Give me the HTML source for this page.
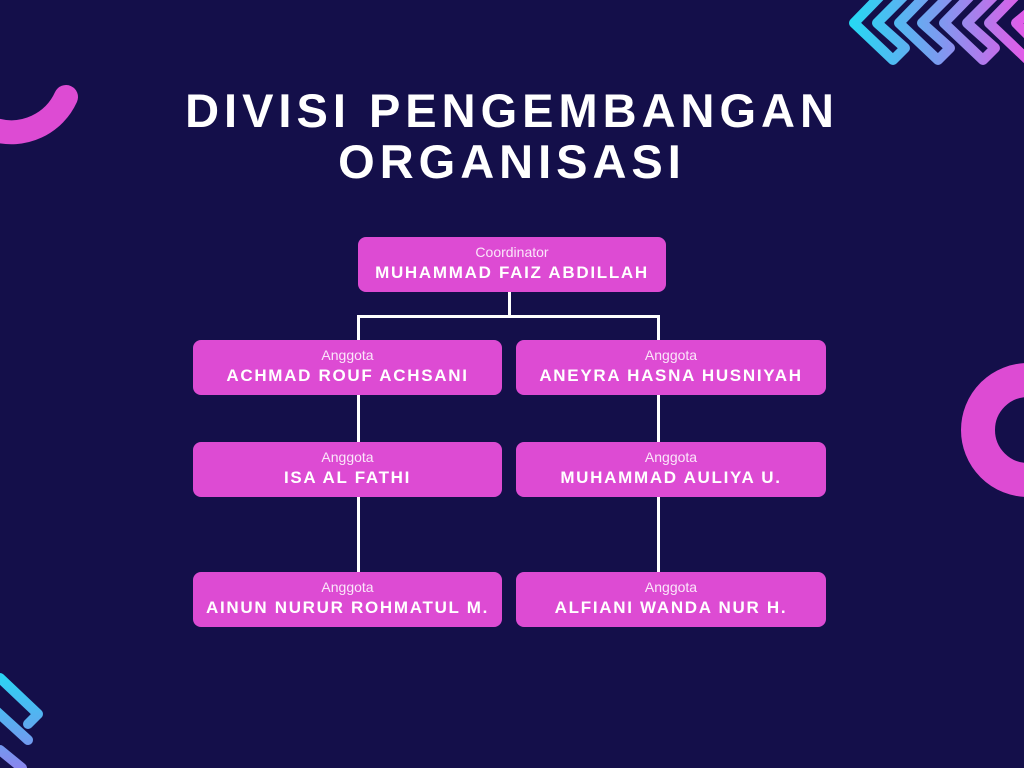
<!DOCTYPE html>
<html><head><meta charset="utf-8"><style>
html,body{margin:0;padding:0}
body{width:1024px;height:768px;background:#140f4a;position:relative;overflow:hidden;font-family:"Liberation Sans",sans-serif}
.t{position:absolute;left:0;width:1024px;text-align:center;color:#fff;font-weight:bold;font-size:47px;letter-spacing:5px}
.n{position:absolute;background:#dd4bd3;border-radius:8px;color:#fff;text-align:center;box-sizing:border-box}
.n .a{font-size:14px;margin-top:7px;line-height:16px;color:#fbe6fa}
.n .b{font-size:17px;font-weight:bold;letter-spacing:1.7px;line-height:20px;margin-top:3px}
.l{position:absolute;background:#fff}
</style></head><body>
<svg width="1024" height="768" style="position:absolute;left:0;top:0">
<defs>
<linearGradient id="g1" x1="850" y1="0" x2="1024" y2="0" gradientUnits="userSpaceOnUse"><stop offset="0" stop-color="#25d9f3"/><stop offset="0.5" stop-color="#7a9cf0"/><stop offset="1" stop-color="#e15ce8"/></linearGradient>
<linearGradient id="g2" x1="0" y1="670" x2="0" y2="768" gradientUnits="userSpaceOnUse"><stop offset="0" stop-color="#25d9f3"/><stop offset="1" stop-color="#8a86ee"/></linearGradient>
</defs>
<path d="M-5 130 A60 60 0 0 0 66 97" fill="none" stroke="#dd4bd3" stroke-width="24" stroke-linecap="round"/>
<circle cx="1028" cy="430" r="50" fill="none" stroke="#dd4bd3" stroke-width="34"/>
<g fill="none" stroke="url(#g1)" stroke-width="10" stroke-linejoin="round" stroke-linecap="round">
<path d="M890 -14 L854 23 L893 60 L905 48 L877 23 L906 -6"/>
<path d="M935 -14 L899 23 L938 60 L950 48 L922 23 L951 -6"/>
<path d="M980 -14 L944 23 L983 60 L995 48 L967 23 L996 -6"/>
<path d="M1025 -14 L989 23 L1028 60"/>
<path d="M1034 8 L1016 23 L1030 37"/>
</g>
<g fill="none" stroke="url(#g2)" stroke-width="10" stroke-linejoin="round" stroke-linecap="round">
<path d="M0 678 L38 714 L28 724"/>
<path d="M-5 710 L28 740"/>
<path d="M0 750 L22 768"/>
</g>
</svg>
<div class="t" style="top:83px">DIVISI PENGEMBANGAN</div>
<div class="t" style="top:134px">ORGANISASI</div>
<div class="l" style="left:508px;top:292px;width:3px;height:25px"></div>
<div class="l" style="left:357px;top:315px;width:303px;height:3px"></div>
<div class="l" style="left:357px;top:315px;width:3px;height:257px"></div>
<div class="l" style="left:657px;top:315px;width:3px;height:257px"></div>
<div class="n" style="left:358px;top:237px;width:308px;height:55px"><div class="a">Coordinator</div><div class="b">MUHAMMAD FAIZ ABDILLAH</div></div>
<div class="n" style="left:193px;top:340px;width:309px;height:55px"><div class="a">Anggota</div><div class="b">ACHMAD ROUF ACHSANI</div></div>
<div class="n" style="left:516px;top:340px;width:310px;height:55px"><div class="a">Anggota</div><div class="b">ANEYRA HASNA HUSNIYAH</div></div>
<div class="n" style="left:193px;top:442px;width:309px;height:55px"><div class="a">Anggota</div><div class="b">ISA AL FATHI</div></div>
<div class="n" style="left:516px;top:442px;width:310px;height:55px"><div class="a">Anggota</div><div class="b">MUHAMMAD AULIYA U.</div></div>
<div class="n" style="left:193px;top:572px;width:309px;height:55px"><div class="a">Anggota</div><div class="b">AINUN NURUR ROHMATUL M.</div></div>
<div class="n" style="left:516px;top:572px;width:310px;height:55px"><div class="a">Anggota</div><div class="b">ALFIANI WANDA NUR H.</div></div>
</body></html>
